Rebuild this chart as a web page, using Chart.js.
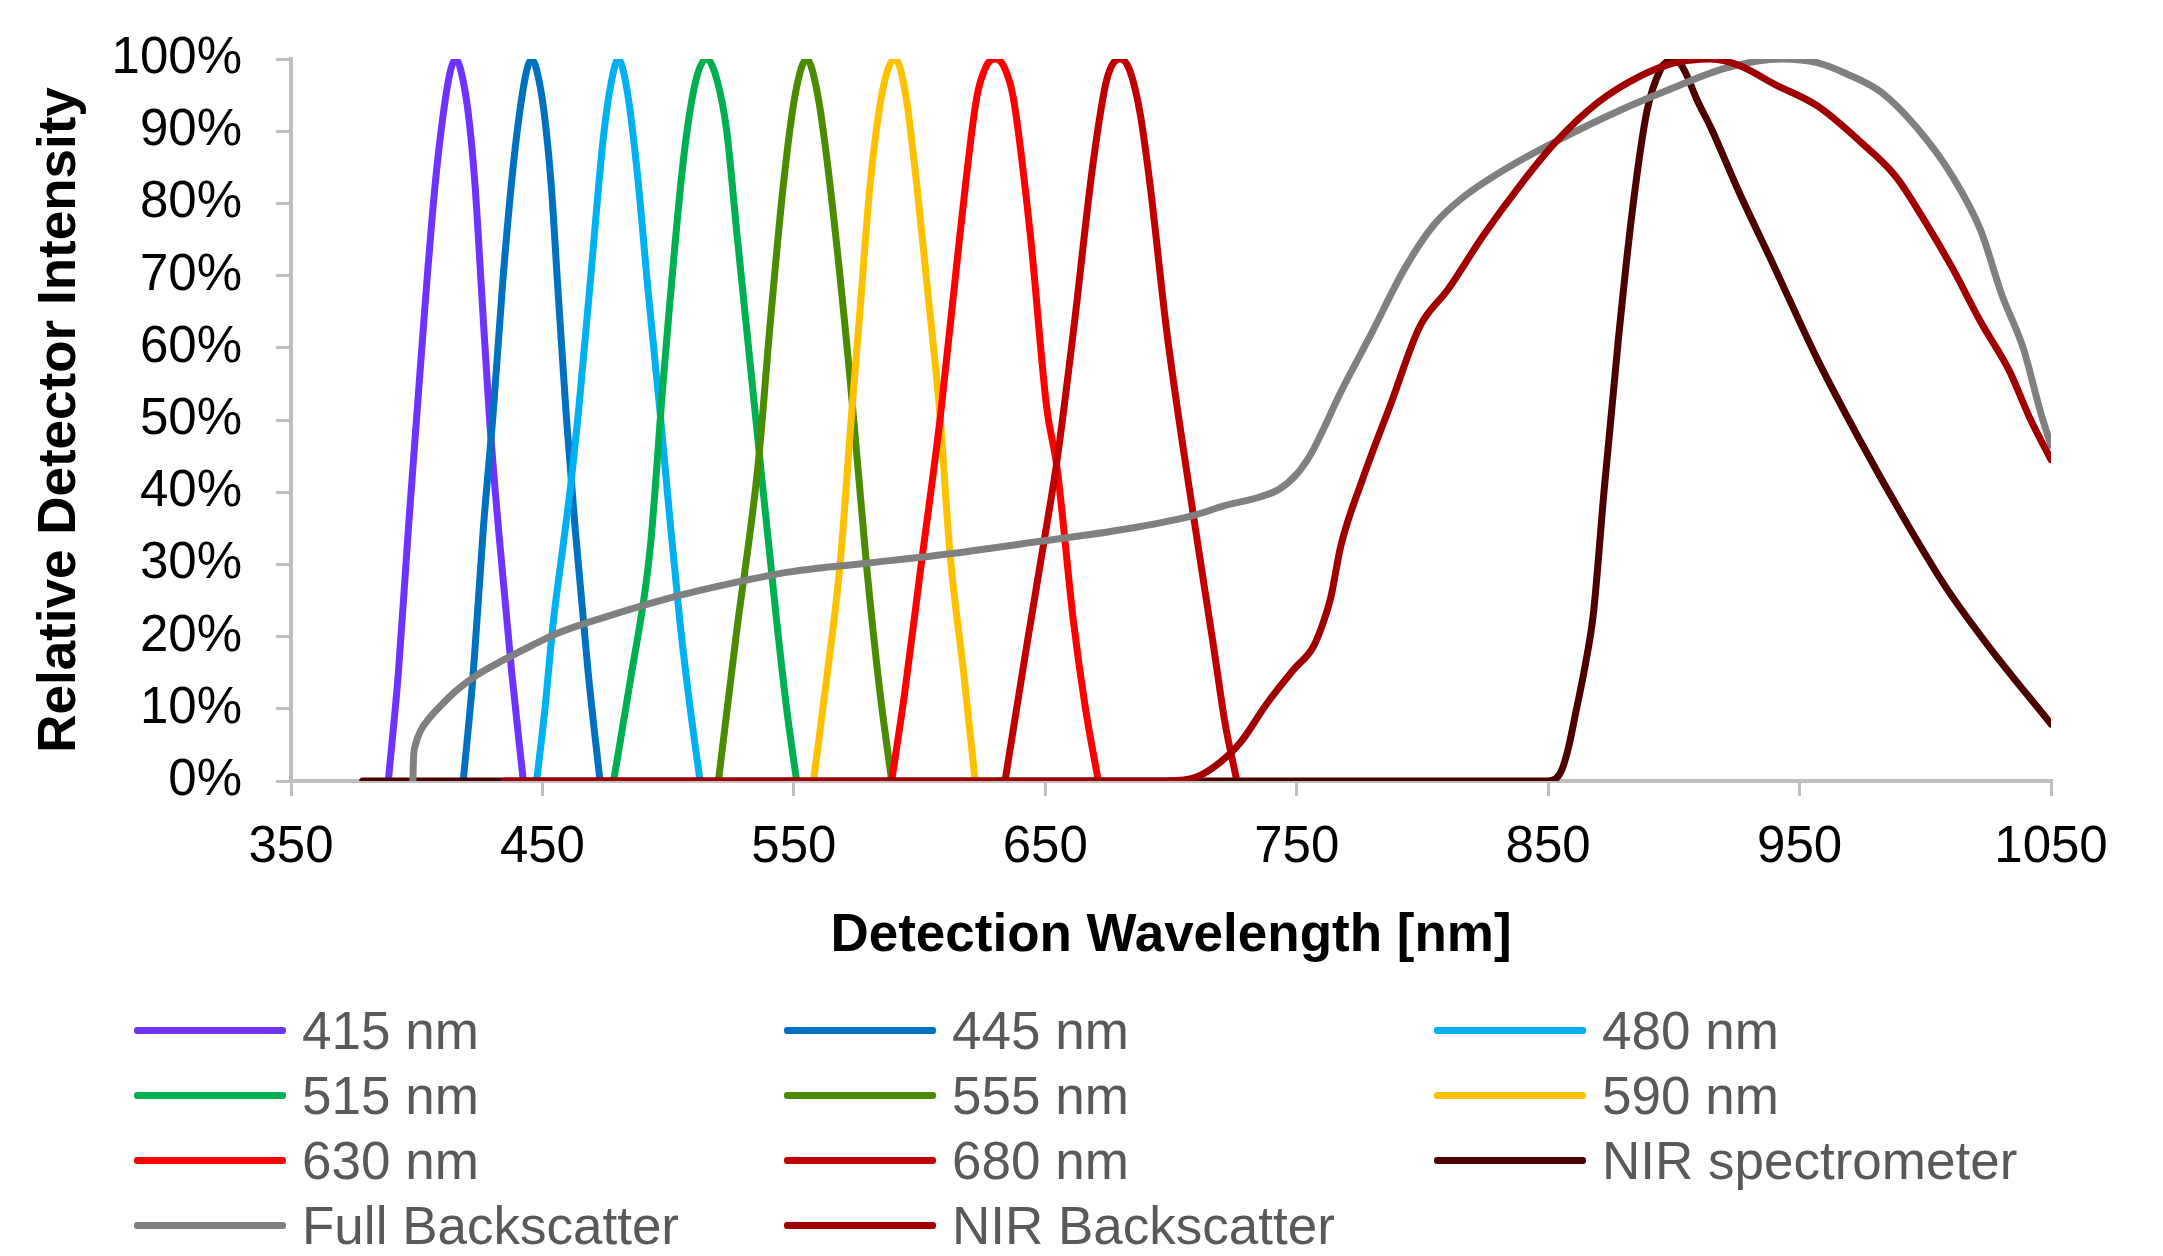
<!DOCTYPE html>
<html>
<head>
<meta charset="utf-8">
<script src="https://cdn.jsdelivr.net/npm/chart.js@4.4.1/dist/chart.umd.min.js"></script>
<style>
  html, body { margin: 0; padding: 0; background: #fff; }
  #wrap { position: relative; width: 2163px; height: 1256px; }
  #legend {
    position: absolute; left: 134px; top: 998px;
    display: grid; grid-template-columns: 650px 650px 650px; grid-auto-rows: 65px;
    font-family: "Liberation Sans", Arial, sans-serif; font-size: 53px; color: #595959;
  }
  .item { display: flex; align-items: center; white-space: nowrap; }
  .swatch { width: 152px; height: 7px; margin-right: 16px; border-radius: 3px; }
</style>
</head>
<body>
<div id="wrap">
  <canvas id="chart" width="2163" height="1256"></canvas>
  <div id="legend"></div>
</div>
<script>
// wavelength [nm] / relative intensity [%]
const wl415 = [388.7, 392.7, 396.7, 400.0, 404.0, 407.3, 410.6, 413.5, 415.5, 417.5, 420.5, 423.2, 425.6, 428.9, 432.5, 437.8, 442.4];
const y415  = [0, 15, 35, 50.5, 69, 82.5, 92.5, 98.5, 100, 98.5, 92.5, 82.5, 69, 50.5, 35, 15, 0];

const wl445 = [418.5, 422.5, 426.5, 430.3, 434.2, 437.6, 440.9, 443.8, 445.7, 447.7, 450.7, 453.5, 456.0, 459.5, 463.0, 468.2, 472.9];
const y445  = [0, 15, 35, 50.5, 69, 82.5, 92.5, 98.5, 100, 98.5, 92.5, 82.5, 69, 50.5, 35, 15, 0];

const wl480 = [447.7, 451.0, 454.3, 458.0, 461.6, 464.3, 469.0, 474.2, 477.5, 480.2, 483.5, 487.5, 492.0, 496.8, 500.5, 504.7, 508.8, 512.7];
const y480  = [0, 10, 22, 32, 42, 51, 69, 89, 97, 100, 96, 85, 68, 51, 37, 22, 10, 0];

const wl515 = [478.3, 485.0, 492.8, 498.1, 506.0, 511.0, 515.3, 519.5, 523.3, 527.3, 535.2, 543.2, 547.5, 551.1];
const y515  = [0, 14, 32, 55.6, 85.8, 97, 100, 97, 90, 76, 49, 22, 9, 0];

const wl555 = [520.0, 527.0, 535.9, 540.5, 545.8, 550.5, 555.1, 559.5, 564.4, 572.4, 579.0, 584.0, 588.9];
const y555  = [0, 20, 44.2, 63, 82.5, 95, 100, 95, 82.5, 55.6, 29.5, 13, 0];

const wl590 = [557.8, 563.0, 568.4, 573.0, 576.5, 580.3, 585.5, 590.3, 594.5, 598.9, 602.9, 608.2, 612.1, 617.4, 622.1];
const y590  = [0, 14, 30.1, 51, 66, 82.5, 96, 100, 95, 82.5, 69, 50.3, 31.5, 15.4, 0];

const wl630 = [588.9, 594.0, 600.2, 608.2, 616.1, 622.7, 626.5, 630.0, 633.5, 637.3, 644.0, 650.6, 654.6, 661.2, 666.0, 671.1];
const y630  = [0, 12, 28.8, 50.3, 75.8, 94.6, 99, 100, 99, 94.6, 75.8, 51.6, 43.6, 22.1, 10, 0];

const wl680 = [634.0, 642.6, 650.6, 654.6, 661.2, 669.1, 674.5, 679.8, 683.5, 687.7, 691.7, 698.3, 708.9, 716.9, 721.5, 726.2];
const y680  = [0, 18.7, 35.5, 44.2, 62.3, 85.8, 97.2, 100, 98.5, 92.5, 82.5, 62.3, 36.8, 18.7, 8, 0];

const wlNirSpec = [378.5, 500, 700, 849.7, 853.0, 855.4, 858.0, 861.0, 865.0, 868.0, 872.3, 878.0, 883.6, 889.3, 894.9, 898.0, 900.0, 902.0, 904.8, 909.0, 914.7, 926.0, 940.1, 957.1, 974.0, 991.0, 1007.9, 1024.9, 1050];
const yNirSpec  = [0, 0, 0, 0, 0.3, 1.5, 4.5, 9.5, 16.5, 23.2, 40.4, 61.4, 79.3, 92.8, 98.7, 99.8, 100, 99.6, 98, 94.5, 90.5, 81.5, 71.1, 58.4, 47.2, 36.7, 27, 18.8, 7.9];

const wlFullBs = [398.5, 398.7, 399.5, 401.3, 405.0, 410.0, 416.0, 423.6, 434.8, 446.0, 457.0, 473.9, 499.0, 526.8, 549.2, 577.0, 610.5, 647.9, 680.2, 708.0, 722.0, 735.0, 743.0, 750.0, 756.0, 761.0, 767.0, 779.0, 793.0, 804.5, 816.0, 835.6, 855.4, 878.0, 897.7, 920.3, 943.0, 957.0, 968.4, 982.5, 996.6, 1010.7, 1022.0, 1030.5, 1039.0, 1046.0, 1050];
const yFullBs  = [0, 3, 5, 6.8, 8.7, 10.6, 12.6, 14.6, 16.8, 18.8, 20.6, 22.6, 25.2, 27.5, 29, 30.1, 31.4, 33.2, 34.8, 36.7, 38.2, 39.3, 40.4, 42.5, 45.5, 49, 53.5, 61.5, 71, 77, 80.8, 85.3, 89, 92.8, 95.7, 98.7, 100, 99.5, 98, 95.4, 90.5, 83.8, 76.3, 67.3, 59.9, 50.9, 46.5];

const wlNirBs = [435, 600, 694.0, 707.6, 716.9, 727.5, 738.1, 748.7, 756.6, 760.6, 763.6, 767.5, 776.3, 787.6, 798.9, 810.2, 824.3, 838.4, 852.5, 869.5, 886.4, 900.6, 914.7, 926.0, 940.1, 957.1, 974.0, 988.1, 999.4, 1010.7, 1022.0, 1033.3, 1041.8, 1050];
const yNirBs  = [0, 0, 0, 0.3, 1.9, 5.3, 10.7, 15.4, 18.6, 22, 25.5, 32.5, 41.9, 52.4, 62.9, 68.1, 75.6, 82.3, 88.3, 93.9, 97.6, 99.5, 100, 99.1, 96.5, 93.5, 88.6, 83.8, 77.8, 71.1, 63.6, 56.9, 50.1, 44.5];

const seriesNames = ['415 nm', '445 nm', '480 nm', '515 nm', '555 nm', '590 nm', '630 nm', '680 nm', 'NIR spectrometer', 'Full Backscatter', 'NIR Backscatter'];
const seriesX = [wl415, wl445, wl480, wl515, wl555, wl590, wl630, wl680, wlNirSpec, wlFullBs, wlNirBs];
const seriesY = [y415, y445, y480, y515, y555, y590, y630, y680, yNirSpec, yFullBs, yNirBs];
const seriesColors = ['#6E33FF', '#0070C0', '#00B0F0', '#00B050', '#4B8B00', '#FFC000', '#FF0000', '#C00000', '#4D0000', '#808080', '#A00000'];

const xTicks = [350, 450, 550, 650, 750, 850, 950, 1050];

const fontFamily = '"Liberation Sans", Arial, sans-serif';
const axisGray = '#BFBFBF';

const datasets = seriesNames.map((name, i) => ({
    label: name,
    data: seriesX[i].map((x, k) => ({ x: x, y: seriesY[i][k] })),
    borderColor: seriesColors[i],
    backgroundColor: seriesColors[i],
    borderWidth: 7,
    pointRadius: 0,
    fill: false,
    cubicInterpolationMode: 'monotone',
    borderCapStyle: 'round',
    borderJoinStyle: 'round',
    order: seriesNames.length - i   // later series drawn on top, like the original
}));

new Chart(document.getElementById('chart'), {
    type: 'line',
    data: { datasets: datasets },
    options: {
        responsive: false,
        animation: false,
        devicePixelRatio: 1,
        layout: { padding: { top: 59, right: 112, bottom: 288, left: 0 } },
        plugins: { legend: { display: false }, tooltip: { enabled: false } },
        scales: {
            x: {
                type: 'linear',
                min: 350,
                max: 1050,
                afterBuildTicks: scale => { scale.ticks = xTicks.map(v => ({ value: v })); },
                afterFit: scale => { scale.height = 187; },
                ticks: {
                    color: '#000',
                    padding: 21,
                    maxRotation: 0,
                    font: { family: fontFamily, size: 51 },
                    callback: v => String(v)
                },
                grid: { drawOnChartArea: false, drawTicks: true, tickLength: 15, color: axisGray, lineWidth: 3 },
                border: { color: axisGray, width: 4 },
                title: {
                    display: true,
                    text: 'Detection Wavelength [nm]',
                    color: '#000',
                    padding: { top: 0, bottom: 0 },
                    font: { family: fontFamily, size: 53, weight: 'bold' }
                }
            },
            y: {
                min: 0,
                max: 100,
                afterFit: scale => {
                    scale.width = 291;
                    // the label gap should not push the plot top down
                    scale.paddingTop = 0;
                    scale.paddingBottom = 0;
                },
                ticks: {
                    stepSize: 10,
                    color: '#000',
                    padding: 34,
                    font: { family: fontFamily, size: 51 },
                    callback: v => v + '%'
                },
                grid: { drawOnChartArea: false, drawTicks: true, tickLength: 15, color: axisGray, lineWidth: 3 },
                border: { color: axisGray, width: 4 },
                title: {
                    display: true,
                    text: 'Relative Detector Intensity',
                    color: '#000',
                    padding: { top: 29, bottom: 0 },
                    font: { family: fontFamily, size: 53, weight: 'bold' }
                }
            }
        }
    }
});

// legend in a 3-column grid, as in the original
const legend = document.getElementById('legend');
seriesNames.forEach((name, i) => {
    const item = document.createElement('div');
    item.className = 'item';
    const sw = document.createElement('span');
    sw.className = 'swatch';
    sw.style.background = seriesColors[i];
    const txt = document.createElement('span');
    txt.textContent = name;
    item.appendChild(sw);
    item.appendChild(txt);
    legend.appendChild(item);
});
</script>
</body>
</html>
